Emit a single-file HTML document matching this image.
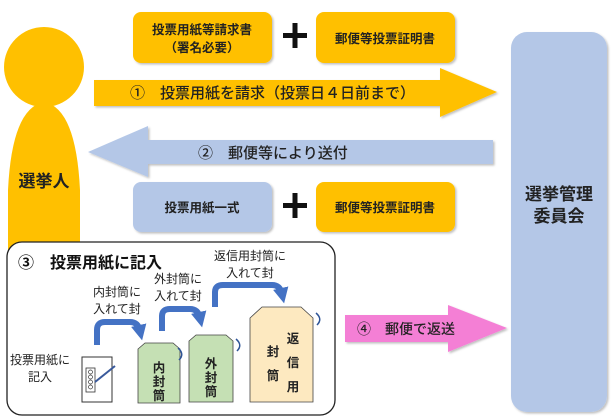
<!DOCTYPE html>
<html><head><meta charset="utf-8"><style>
html,body{margin:0;padding:0;background:#fff;}
svg{display:block;font-family:"Liberation Sans","Noto Sans CJK JP",sans-serif;}
</style></head><body>
<svg width="616" height="418" viewBox="0 0 616 418" xmlns="http://www.w3.org/2000/svg">
<defs>
<filter id="sh" x="-10%" y="-10%" width="130%" height="130%"><feDropShadow dx="1.5" dy="1.5" stdDeviation="1" flood-color="#000" flood-opacity="0.25"/></filter>
<marker id="ah" markerWidth="2.6" markerHeight="2.6" refX="1" refY="1.3" orient="auto" markerUnits="strokeWidth"><path d="M0,0 L2.6,1.3 L0,2.6 z" fill="#4472c4"/></marker>
</defs>
<!-- person -->
<circle cx="44" cy="67" r="40" fill="#ffc000"/>
<path d="M8,260 L8,190 Q12,108 44,102 Q76,108 80,190 L80,260 Z" fill="#ffc000"/>
<text x="44" y="187" font-size="17" font-weight="bold" text-anchor="middle" fill="#222">選挙人</text>
<!-- right column -->
<rect x="511" y="32" width="96" height="380" rx="16" fill="#b4c7e7" filter="url(#sh)"/>
<text x="559" y="200" font-size="17" font-weight="bold" text-anchor="middle" fill="#222">選挙管理</text>
<text x="559" y="222" font-size="17" font-weight="bold" text-anchor="middle" fill="#222">委員会</text>
<!-- top boxes -->
<rect x="133" y="12" width="139" height="51" rx="8" fill="#ffc000" filter="url(#sh)"/>
<text x="202" y="34" font-size="12.5" font-weight="bold" text-anchor="middle" fill="#222">投票用紙等請求書</text>
<text x="202" y="52" font-size="12.5" font-weight="bold" text-anchor="middle" fill="#222">（署名必要）</text>
<rect x="283" y="33" width="24" height="5" fill="#111"/><rect x="292.5" y="23" width="5" height="25" fill="#111"/>
<rect x="316" y="12" width="139" height="51" rx="8" fill="#ffc000" filter="url(#sh)"/>
<text x="385" y="43" font-size="12.5" font-weight="bold" text-anchor="middle" fill="#222">郵便等投票証明書</text>
<!-- arrow 1 -->
<path d="M94,80 L440,80 L440,68 L497,92 L440,117 L440,106 L94,106 Z" fill="#ffc000" filter="url(#sh)"/>
<text x="130" y="98" font-size="15" font-weight="500" fill="#222">①　投票用紙を請求（投票日４日前まで）</text>
<!-- arrow 2 -->
<path d="M493,140 L148,140 L148,126 L88,152 L148,177 L148,164 L493,164 Z" fill="#b4c7e7" filter="url(#sh)"/>
<text x="198" y="158" font-size="15" font-weight="500" fill="#222">②　郵便等により送付</text>
<!-- bottom boxes -->
<rect x="133" y="182" width="139" height="50" rx="8" fill="#b4c7e7" filter="url(#sh)"/>
<text x="202" y="212" font-size="12.5" font-weight="bold" text-anchor="middle" fill="#222">投票用紙一式</text>
<rect x="283" y="203" width="24" height="5" fill="#111"/><rect x="292.5" y="193" width="5" height="25" fill="#111"/>
<rect x="316" y="182" width="139" height="50" rx="8" fill="#ffc000" filter="url(#sh)"/>
<text x="385" y="212" font-size="12.5" font-weight="bold" text-anchor="middle" fill="#222">郵便等投票証明書</text>
<!-- panel -->
<rect x="7" y="242" width="328" height="173" rx="15" fill="#fff" stroke="#222" stroke-width="1.3"/>
<text x="18" y="268" font-size="16" font-weight="bold" fill="#111">③　投票用紙に記入</text>
<text x="40" y="364" font-size="12" text-anchor="middle" fill="#222">投票用紙に</text>
<text x="40" y="381" font-size="12" text-anchor="middle" fill="#222">記入</text>
<rect x="82" y="357" width="30" height="45" fill="#fff" stroke="#333" stroke-width="1"/>
<rect x="86" y="368" width="9" height="24" fill="#fff" stroke="#333" stroke-width="0.8"/>
<circle cx="90.5" cy="372" r="2" fill="none" stroke="#333" stroke-width="0.7"/>
<circle cx="90.5" cy="377" r="2" fill="none" stroke="#333" stroke-width="0.7"/>
<circle cx="90.5" cy="382" r="2" fill="none" stroke="#333" stroke-width="0.7"/>
<circle cx="90.5" cy="387" r="2" fill="none" stroke="#333" stroke-width="0.7"/>
<line x1="95" y1="382" x2="115" y2="366" stroke="#3a5a9c" stroke-width="2"/>
<!-- envelopes -->
<path d="M138,403 L138,349 L145,343 L173,343 L180,349 L180,403 Z" fill="#c5e0b4" stroke="#444" stroke-width="0.8"/>
<path d="M178,348 Q185,354 179,360" fill="none" stroke="#2f5597" stroke-width="1.5"/>
<text font-size="12.5" font-weight="bold" fill="#222" text-anchor="middle"><tspan x="159" y="372">内</tspan><tspan x="159" y="386">封</tspan><tspan x="159" y="400">筒</tspan></text>
<path d="M189,402 L189,341 L196,335 L226,335 L233,341 L233,402 Z" fill="#c5e0b4" stroke="#444" stroke-width="0.8"/>
<path d="M236,339 Q243,345 237,351" fill="none" stroke="#2f5597" stroke-width="1.5"/>
<text font-size="12.5" font-weight="bold" fill="#222" text-anchor="middle"><tspan x="211" y="368">外</tspan><tspan x="211" y="382">封</tspan><tspan x="211" y="396">筒</tspan></text>
<path d="M250,402 L250,318 L262,307 L301,307 L313,318 L313,402 Z" fill="#fde9c0" stroke="#444" stroke-width="0.8"/>
<path d="M316,313 Q323,319 317,325" fill="none" stroke="#2f5597" stroke-width="1.5"/>
<text font-size="12.5" font-weight="bold" fill="#222" text-anchor="middle"><tspan x="293" y="343">返</tspan><tspan x="293" y="367">信</tspan><tspan x="293" y="391">用</tspan><tspan x="273" y="356">封</tspan><tspan x="273" y="380">筒</tspan></text>
<!-- curved arrows -->
<path d="M97,345 L97,330 Q97,322 105,322 L130,322 Q138,322 140,331" fill="none" stroke="#4472c4" stroke-width="6" marker-end="url(#ah)"/>
<text x="117" y="296" font-size="12" text-anchor="middle" fill="#222">内封筒に</text>
<text x="117" y="313" font-size="12" text-anchor="middle" fill="#222">入れて封</text>
<path d="M162,331 L162,316 Q162,309 170,309 L190,309 Q198,309 200,318" fill="none" stroke="#4472c4" stroke-width="6" marker-end="url(#ah)"/>
<text x="178" y="283" font-size="12" text-anchor="middle" fill="#222">外封筒に</text>
<text x="178" y="300" font-size="12" text-anchor="middle" fill="#222">入れて封</text>
<path d="M215,307 L215,292 Q215,285 223,285 L272,285 Q280,285 282,294" fill="none" stroke="#4472c4" stroke-width="6" marker-end="url(#ah)"/>
<text x="250" y="260" font-size="12" text-anchor="middle" fill="#222">返信用封筒に</text>
<text x="250" y="277" font-size="12" text-anchor="middle" fill="#222">入れて封</text>
<!-- arrow 4 -->
<path d="M345,315 L448,315 L448,305 L507,328 L448,352 L448,342 L345,342 Z" fill="#f47fd5" filter="url(#sh)"/>
<text x="357" y="334" font-size="14" font-weight="500" fill="#222">④　郵便で返送</text>
</svg>
</body></html>
